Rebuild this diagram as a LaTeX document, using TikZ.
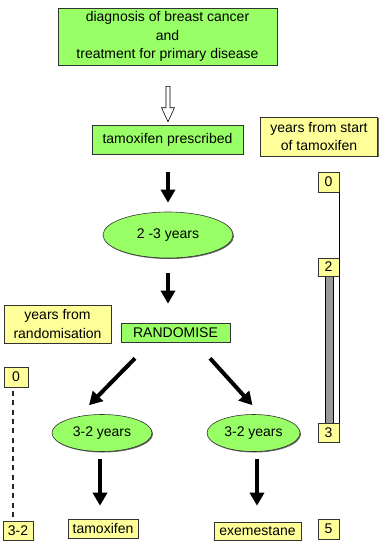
\documentclass[tikz,border=0pt]{standalone}
\usepackage{fontspec}
\setmainfont{Liberation Sans}
\usetikzlibrary{arrows.meta,shapes.geometric,calc,shadows}
\definecolor{boxgreen}{HTML}{99FF66}
\definecolor{boxyellow}{HTML}{FFFF99}
\definecolor{bargrey}{HTML}{999999}
\begin{document}
\begin{tikzpicture}[x=1pt,y=-1pt,
  every node/.style={font=\fontsize{14}{18.5}\selectfont, inner sep=0pt, align=center},
  sh/.style={drop shadow={shadow xshift=1pt,shadow yshift=-1pt,fill=black!60,opacity=1}},
  gbox/.style={draw=black!80, line width=0.6pt, fill=boxgreen, rectangle, sh},
  ybox/.style={draw=black!80, line width=0.6pt, fill=boxyellow, rectangle, sh},
  gell/.style={draw=black!80, line width=0.6pt, fill=boxgreen, ellipse, sh},
  bigarrow/.style={line width=4pt, -{Triangle[width=14pt,length=13pt]}},
]
\useasboundingbox (0,0) rectangle (380,541);

% nodes
\node[gbox, minimum width=219, minimum height=57] (diag) at (167.5,36.5)
  {diagnosis of breast cancer\\and\\treatment for primary disease};
\node[gbox, minimum width=151, minimum height=29] (tamp) at (167.5,139.5) {tamoxifen prescribed};
\node[ybox, minimum width=117, minimum height=39] (ystart) at (319,136.5) {years from start\\of tamoxifen};
\node[gell, minimum width=130, minimum height=46] (ell1) at (168,235) {2 -3 years};
\node[ybox, minimum width=107, minimum height=38] (yrand) at (57.5,324) {years from\\randomisation};
\node[gbox, minimum width=109, minimum height=19] (rand) at (175.5,332.5) {RANDOMISE};
\node[gell, minimum width=100, minimum height=37] (ellL) at (102,433) {3-2 years};
\node[gell, minimum width=93, minimum height=37] (ellR) at (253.5,433) {3-2 years};
\node[ybox, minimum width=70, minimum height=19] (tamox) at (103,528.5) {tamoxifen};
\node[ybox, minimum width=87, minimum height=18] (exem) at (257.5,531) {exemestane};

% right timeline
\draw[line width=0.6pt, fill=bargrey] (325,275) rectangle (333,423);
\node[ybox, minimum width=21, minimum height=20] (r0) at (328.5,182) {0};
\node[ybox, minimum width=21, minimum height=18] (r2) at (328.5,267) {2};
\node[ybox, minimum width=21, minimum height=19] (r3) at (328.5,432.5) {3};
\node[ybox, minimum width=21, minimum height=20] (r5) at (328.5,529) {5};
\draw[line width=0.6pt] (r0.south east) -- (r3.north east);

% left timeline
\node[ybox, minimum width=24, minimum height=20] (l0) at (16,377) {0};
\node[ybox, minimum width=30, minimum height=19] (l32) at (18,530.5) {3-2};
\coordinate (dtop) at (13,391);
\coordinate (dbot) at (13,520);
\draw[line width=1.5pt, draw=black!85, dash pattern=on 5pt off 4.3pt] (dtop) -- (dbot);

% hollow arrow
\coordinate (ha) at ($(diag.south)+(0.5,21)$);
\coordinate (hb) at ($(tamp.north)+(0.5,-3)$);
\draw[line width=0.6pt, fill=white]
  ($(ha)+(-2,0)$) -- ($(ha)+(2,0)$) -- ($(hb)+(2,-14)$) -- ($(hb)+(6.5,-14)$) -- (hb)
  -- ($(hb)+(-6.5,-14)$) -- ($(hb)+(-2,-14)$) -- cycle;

% solid arrows
\draw[bigarrow] ($(tamp.south)+(0.5,18)$) -- ($(ell1.north)+(0,-9)$);
\draw[bigarrow] ($(ell1.south)+(0,15)$) -- ($(rand.north)+(-7.5,-19)$);
\draw[bigarrow] ($(rand.south)+(-40.5,16)$) -- ($(ellL.north)+(-13,-9)$);
\draw[bigarrow] ($(rand.south)+(34.5,16)$) -- ($(ellR.north)+(-1,-9)$);
\draw[bigarrow] ($(ellL.south)+(-2,7)$) -- ($(tamox.north)+(-3,-13)$);
\draw[bigarrow] ($(ellR.south)+(3.5,7)$) -- ($(exem.north)+(-0.5,-16)$);
\end{tikzpicture}
\end{document}
